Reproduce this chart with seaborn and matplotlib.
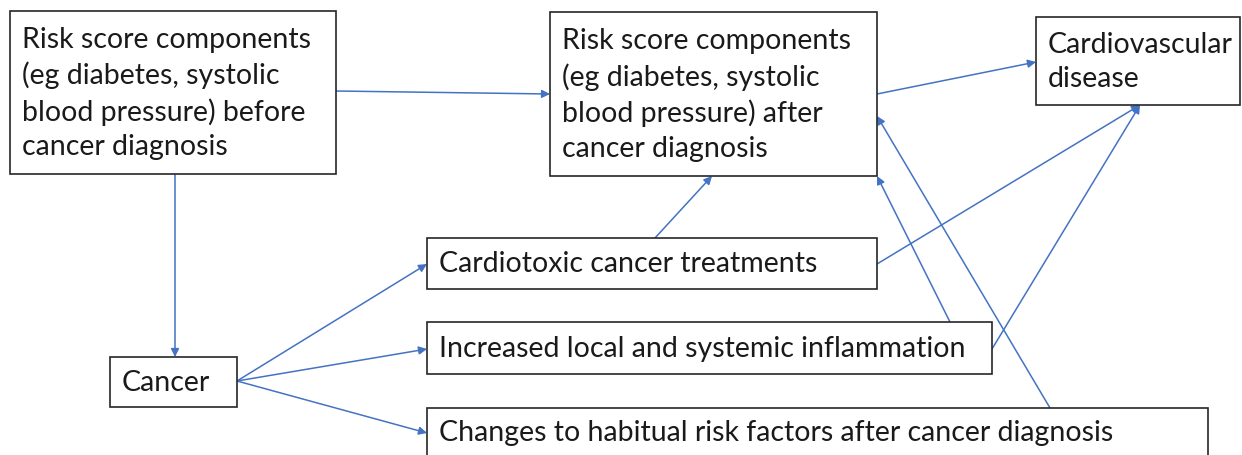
import matplotlib
matplotlib.use("Agg")
import matplotlib.pyplot as plt
import seaborn as sns

sns.set_theme(style="white")
plt.rcParams['font.family'] = ['Lato', 'DejaVu Sans']

# boxes of the diagram
box_names = ['before', 'after', 'cvd', 'cancer', 'cardiotox', 'inflam', 'habits']
box_labels = [
    'Risk score components\n(eg diabetes, systolic\nblood pressure) before\ncancer diagnosis',
    'Risk score components\n(eg diabetes, systolic\nblood pressure) after\ncancer diagnosis',
    'Cardiovascular\ndisease',
    'Cancer',
    'Cardiotoxic cancer treatments',
    'Increased local and systemic inflammation',
    'Changes to habitual risk factors after cancer diagnosis',
]
box_left = [10, 550, 1036, 110, 427, 427, 427]
box_top = [12, 13, 18, 358, 239, 323, 409]
box_right = [336, 877, 1240, 237, 877, 992, 1208]
box_bottom = [175, 177, 106, 408, 290, 375, 470]

# arrows: start point -> end point
arrow_start = [(336, 92), (175, 175), (237, 382), (237, 382), (237, 382),
               (655, 239), (877, 95), (877, 265), (992, 350), (950, 323), (1050, 409)]
arrow_end = [(550, 95), (175, 358), (427, 265), (427, 350), (427, 434),
             (712, 177), (1036, 63), (1140, 106), (1140, 106), (877, 177), (877, 117)]

line_color = '#4472C4'

fig = plt.figure(figsize=(12.42, 4.56), dpi=100)
ax = fig.add_axes([0, 0, 1, 1])
ax.set_xlim(0, 1242)
ax.set_ylim(456, 0)
ax.axis('off')

for (x0, y0), (x1, y1) in zip(arrow_start, arrow_end):
    ax.annotate('', xy=(x1, y1), xytext=(x0, y0),
                arrowprops=dict(arrowstyle='-|>', color=line_color, lw=1.1,
                                mutation_scale=12, shrinkA=0, shrinkB=0))

for label, l, t, r, b in zip(box_labels, box_left, box_top, box_right, box_bottom):
    ax.add_patch(plt.Rectangle((l, t), r - l, b - t, facecolor='white',
                               edgecolor='#262626', lw=1.2, zorder=3))
    cy = (t + b) / 2 if b < 456 else (t + 456) / 2 + 1
    ax.text(l + 12, cy, label, ha='left', va='center', fontsize=20.5,
            color='#1a1a1a', linespacing=1.39, zorder=4)

fig.savefig('out.png', dpi=100)
